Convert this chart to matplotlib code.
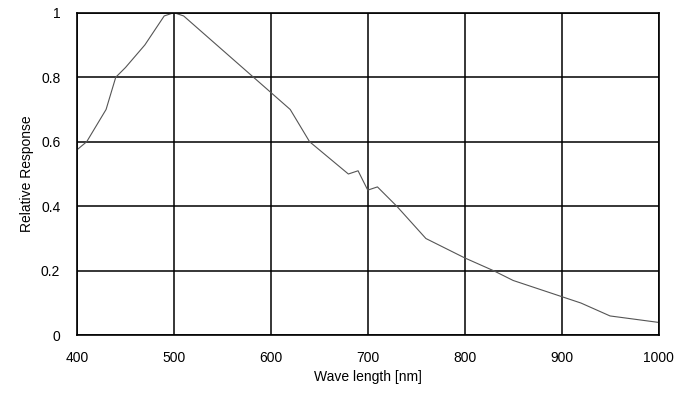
import matplotlib
matplotlib.use("Agg")
import matplotlib.pyplot as plt

wavelength = [400, 410, 430, 440, 450, 470, 490, 500, 510, 620, 640, 680, 690, 700, 710, 730, 760, 800, 830, 850, 900, 920, 950, 1000]
response = [0.575, 0.60, 0.70, 0.80, 0.83, 0.90, 0.99, 1.00, 0.99, 0.70, 0.60, 0.50, 0.51, 0.45, 0.46, 0.40, 0.30, 0.24, 0.20, 0.17, 0.12, 0.10, 0.06, 0.04]
xticks = [400, 500, 600, 700, 800, 900, 1000]
yticks = [0, 0.2, 0.4, 0.6, 0.8, 1]
ytick_labels = ["0", "0.2", "0.4", "0.6", "0.8", "1"]

plt.rcParams['font.family'] = ['Liberation Sans', 'DejaVu Sans']

fig = plt.figure(figsize=(6.96, 3.99), dpi=100)
ax = fig.add_axes([77/696, 1 - 335.3/399, (658.5-77)/696, (335.3-12.7)/399])

ax.plot(wavelength, response, color='#555555', linewidth=0.8)
ax.set_xlim(400, 1000)
ax.set_ylim(0, 1)
ax.set_xticks(xticks)
ax.set_yticks(yticks)
ax.set_yticklabels(ytick_labels)
ax.grid(True, color='black', linewidth=1.1)
ax.tick_params(length=0, labelsize=10, colors='black')
ax.tick_params(axis='x', pad=11)
ax.tick_params(axis='y', pad=12)
for s in ax.spines.values():
    s.set_color('black')
    s.set_linewidth(1.2)
ax.set_xlabel("Wave length [nm]", fontsize=10, labelpad=4)
ax.set_ylabel("Relative Response", fontsize=10, labelpad=5)

fig.savefig("out.png", dpi=100)
